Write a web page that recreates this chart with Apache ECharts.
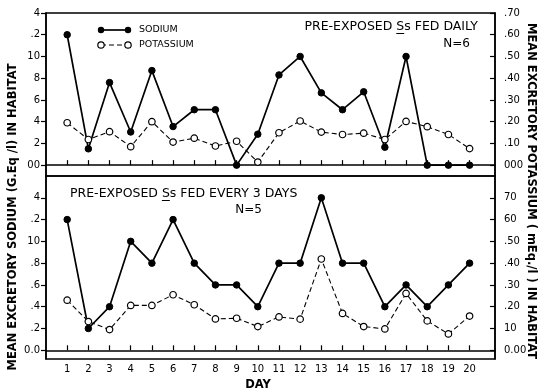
<!DOCTYPE html>
<html><head><meta charset="utf-8">
<script src="https://cdn.jsdelivr.net/npm/echarts@6/dist/echarts.min.js"></script>
<style>html,body{margin:0;padding:0;background:#fff}#c{width:539px;height:391px}</style>
</head><body><div id="c"></div>
<script>
// ---- data ----
const days = [1,2,3,4,5,6,7,8,9,10,11,12,13,14,15,16,17,18,19,20];
const sodiumDaily    = [1.20,0.15,0.76,0.305,0.87,0.355,0.51,0.51,0.0,0.285,0.83,1.00,0.665,0.51,0.675,0.165,1.00,0.0,0.0,0.0];
const potassiumDaily = [0.195,0.118,0.154,0.085,0.20,0.106,0.124,0.088,0.11,0.014,0.149,0.203,0.152,0.141,0.147,0.118,0.201,0.177,0.141,0.076];
const sodium3Days    = [1.20,0.20,0.40,1.00,0.80,1.20,0.80,0.60,0.60,0.40,0.80,0.80,1.40,0.80,0.80,0.40,0.60,0.40,0.60,0.80];
const potassium3Days = [0.23,0.132,0.095,0.206,0.206,0.255,0.209,0.144,0.147,0.109,0.153,0.143,0.419,0.169,0.109,0.098,0.261,0.135,0.075,0.157];

const sodiumTickValues = [0,0.2,0.4,0.6,0.8,1.0,1.2,1.4];
const potassiumTickValues = [0,0.1,0.2,0.3,0.4,0.5,0.6,0.7];
const sodiumLabelsTop    = ['00','2','4','6','8','10','.2','4'];
const sodiumLabelsBottom = ['0.0','.2','.4','.6','.8','10','.2','4'];
const potassiumLabelsTop    = ['000','.10','.20','.30','.40','.50','.60','.70'];
const potassiumLabelsBottom = ['0.00','10','.20','.30','.40','.50','60','70'];

const titlePrefix = 'PRE-EXPOSED ';
const titleTop = 'PRE-EXPOSED Ss FED DAILY';
const nTop = 'N=6';
const titleBottom = 'PRE-EXPOSED Ss FED EVERY 3 DAYS';
const nBottom = 'N=5';
const leftName = 'MEAN EXCRETORY SODIUM (G.Eq /l) IN HABITAT';
const rightName = 'MEAN EXCRETORY POTASSIUM ( mEq./l ) IN HABITAT';
const xName = 'DAY';

// ---- chart ----
const FONT = 'DejaVu Sans';
const TITLE_FONT = '12.5px ' + FONT;
const pairs = (vals) => days.map((d,i) => [d, vals[i]]);
const lookup = (vals, labels) => (v) => {
  let best = 0, bd = 1e9;
  vals.forEach((t,i)=>{ const dd=Math.abs(t-v); if(dd<bd){bd=dd;best=i;} });
  return labels[best];
};
const mctx = document.createElement('canvas').getContext('2d');
mctx.font = TITLE_FONT;
const tw = (s) => mctx.measureText(s).width;

function xAxis(gridIndex, showLabels){
  return {
    type:'value', gridIndex, min:0, max:21.2,
    axisLine:{show:true, lineStyle:{color:'#000', width:1.5}},
    axisTick:{show:true, inside:true, length:5, customValues:days, lineStyle:{color:'#000', width:1.2}},
    axisLabel:{show:showLabels, customValues:days, color:'#000', fontFamily:FONT, fontSize:10, margin:5},
    splitLine:{show:false}
  };
}
function yAxis(gridIndex, pos, min, max, vals, labels, inside){
  return {
    type:'value', gridIndex, position:pos, min, max,
    axisLine:{show:true, onZero:false, lineStyle:{color:'#000', width:1.5}},
    axisTick:{show:true, inside, length:5, customValues:vals, lineStyle:{color:'#000', width:1.2}},
    axisLabel:{show:true, showMinLabel:true, showMaxLabel:true, customValues:vals, formatter:lookup(vals, labels), color:'#000', fontFamily:FONT, fontSize:10, margin: inside ? 9 : 6},
    splitLine:{show:false}
  };
}
const sodiumStyle = {
  type:'line', symbol:'circle', symbolSize:6.5,
  lineStyle:{color:'#000', width:1.7},
  itemStyle:{color:'#000', borderColor:'#000', borderWidth:1}
};
const potStyle = {
  type:'line', symbol:'circle', symbolSize:6.5,
  lineStyle:{color:'#000', width:1.1, type:[5,3]},
  itemStyle:{color:'#fff', borderColor:'#000', borderWidth:1.2}
};

// underline of the "S" in "Ss"
const topStart = 478 - tw(titleTop);
const botStart = 70;
const uTop = {x1: topStart + tw(titlePrefix), x2: topStart + tw(titlePrefix + 'S')};
const uBot = {x1: botStart + tw(titlePrefix), x2: botStart + tw(titlePrefix + 'S')};

const chart = echarts.init(document.getElementById('c'), null, {renderer:'canvas'});
chart.setOption({
  animation:false,
  backgroundColor:'#fff',
  grid:[
    {left:46, right:44, top:13, height:163, show:true, borderColor:'#000', borderWidth:1.5},
    {left:46, right:44, top:176, height:183, show:true, borderColor:'#000', borderWidth:1.5}
  ],
  xAxis:[xAxis(0,false), xAxis(1,true)],
  yAxis:[
    yAxis(0,'left',-0.1,1.4,sodiumTickValues,sodiumLabelsTop,false),
    yAxis(0,'right',-0.05,0.7,potassiumTickValues,potassiumLabelsTop,true),
    yAxis(1,'left',-0.08,1.6,sodiumTickValues,sodiumLabelsBottom,false),
    yAxis(1,'right',-0.04,0.8,potassiumTickValues,potassiumLabelsBottom,true)
  ],
  series:[
    Object.assign({name:'SODIUM', xAxisIndex:0, yAxisIndex:0, data:pairs(sodiumDaily), z:3}, sodiumStyle),
    Object.assign({name:'POTASSIUM', xAxisIndex:0, yAxisIndex:1, data:pairs(potassiumDaily), z:4}, potStyle),
    Object.assign({name:'SODIUM', xAxisIndex:1, yAxisIndex:2, data:pairs(sodium3Days), z:3}, sodiumStyle),
    Object.assign({name:'POTASSIUM', xAxisIndex:1, yAxisIndex:3, data:pairs(potassium3Days), z:4}, potStyle)
  ],
  graphic:[
    {type:'text', x:13, y:217, rotation:Math.PI/2, style:{text:leftName, font:'bold 11.5px '+FONT, fill:'#000', textAlign:'center', textVerticalAlign:'middle'}},
    {type:'text', x:531, y:191, rotation:-Math.PI/2, style:{text:rightName, font:'bold 11.5px '+FONT, fill:'#000', textAlign:'center', textVerticalAlign:'middle'}},
    {type:'text', x:258, y:385, style:{text:xName, font:'bold 11.5px '+FONT, fill:'#000', textAlign:'center', textVerticalAlign:'middle'}},
    {type:'text', x:478, y:27, style:{text:titleTop, font:TITLE_FONT, fill:'#000', textAlign:'right', textVerticalAlign:'middle'}},
    {type:'line', shape:{x1:uTop.x1, y1:33.5, x2:uTop.x2, y2:33.5}, style:{stroke:'#000', lineWidth:1}},
    {type:'text', x:470, y:44, style:{text:nTop, font:'12px '+FONT, fill:'#000', textAlign:'right', textVerticalAlign:'middle'}},
    {type:'text', x:botStart, y:194, style:{text:titleBottom, font:TITLE_FONT, fill:'#000', textAlign:'left', textVerticalAlign:'middle'}},
    {type:'line', shape:{x1:uBot.x1, y1:200.5, x2:uBot.x2, y2:200.5}, style:{stroke:'#000', lineWidth:1}},
    {type:'text', x:262, y:210, style:{text:nBottom, font:'12px '+FONT, fill:'#000', textAlign:'right', textVerticalAlign:'middle'}},
    // legend
    {type:'line', shape:{x1:101, y1:30, x2:128, y2:30}, style:{stroke:'#000', lineWidth:1.7}},
    {type:'circle', shape:{cx:101, cy:30, r:3.2}, style:{fill:'#000'}},
    {type:'circle', shape:{cx:128, cy:30, r:3.2}, style:{fill:'#000'}},
    {type:'text', x:139, y:30, style:{text:'SODIUM', font:'9.5px '+FONT, fill:'#000', textVerticalAlign:'middle'}},
    {type:'line', shape:{x1:101, y1:45, x2:128, y2:45}, style:{stroke:'#000', lineWidth:1.1, lineDash:[5,3]}},
    {type:'circle', shape:{cx:101, cy:45, r:3.2}, style:{fill:'#fff', stroke:'#000', lineWidth:1.2}},
    {type:'circle', shape:{cx:128, cy:45, r:3.2}, style:{fill:'#fff', stroke:'#000', lineWidth:1.2}},
    {type:'text', x:139, y:45, style:{text:'POTASSIUM', font:'9.5px '+FONT, fill:'#000', textVerticalAlign:'middle'}}
  ]
});
</script>
</body></html>
